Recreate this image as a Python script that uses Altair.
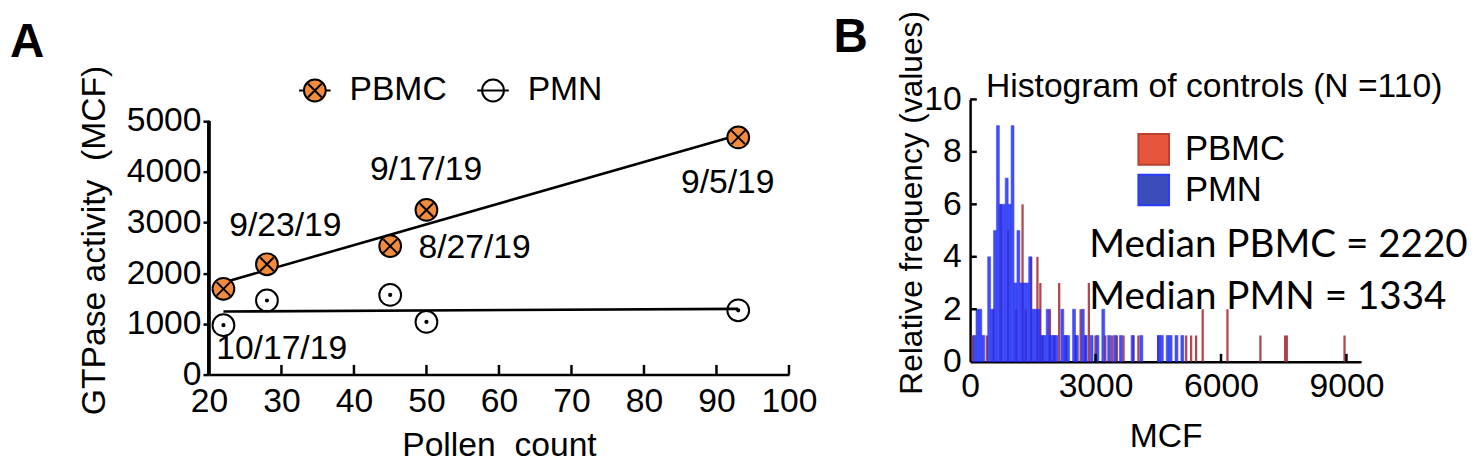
import altair as alt
import pandas as pd

# ---------------- Panel A data ----------------
pollen = [22, 28, 45, 50, 93]
pbmc_gtpase = [1690, 2175, 2533, 3246, 4676]
pmn_gtpase = [974, 1461, 1570, 1038, 1266]
series_names = ["PBMC", "PMN"]
date_labels = ["9/23/19", "9/17/19", "8/27/19", "9/5/19", "10/17/19"]
date_label_pollen = [22.8, 42.2, 48.9, 85.1, 21.0]
date_label_gtpase = [2928, 4025, 2484, 3766, 503]
pollen_ticks = [20, 30, 40, 50, 60, 70, 80, 90, 100]
gtpase_ticks = [0, 1000, 2000, 3000, 4000, 5000]

# ---------------- Panel B data ----------------
pmn_bin_width = 70
pmn_bin_start = [70, 140, 210, 280, 420, 490, 560, 630, 700, 770, 840, 910, 980,
                 1050, 1120, 1190, 1260, 1330, 1400, 1470, 1540, 1610, 1680, 1750,
                 1820, 1890, 1960, 2030, 2170, 2240, 2310, 2450, 2520, 2660, 2730,
                 2870, 3010, 3150, 3290, 3430, 3570, 3850, 4060, 4480, 4550, 4690,
                 4760, 4900, 5040]
pmn_bin_count = [1, 2, 2, 1, 4, 2, 5, 9, 6, 6, 7, 6, 9,
                 3, 5, 3, 3, 3, 4, 2, 2, 2, 1, 1,
                 2, 1, 1, 1, 2, 1, 1, 2, 1, 2, 1,
                 1, 1, 2, 1, 1, 1, 1, 1, 1, 1, 1,
                 1, 1, 1]
pbmc_mcf = [62, 400, 560, 733, 907, 1100, 1254, 1330, 1460, 1610, 1680, 1735,
            1909, 2012, 2130, 2287, 2524, 2642, 2761, 2840, 2997, 3234, 3392,
            3510, 3669, 3905, 4024, 4497, 5167, 5285, 5404, 5562, 6154, 6942,
            7534, 7574, 8954]
pbmc_count = [1, 1, 2, 6, 5, 2, 6, 2, 4, 4, 3, 1,
              2, 1, 3, 1, 1, 2, 1, 3, 1, 1, 1,
              1, 1, 1, 1, 1, 1, 1, 1, 2, 2, 1,
              1, 1, 1]
median_text = ["Median PBMC = 2220", "Median PMN = 1334"]
median_mcf = [2848, 2848]
median_freq = [4.45, 2.45]
mcf_ticks = [0, 3000, 6000, 9000]
freq_ticks = [0, 2, 4, 6, 8, 10]
hist_title = ["Histogram of controls (N =110)"]

FONT = "Liberation Sans"
CAL = "Lato"
ORANGE = "#f28c3c"
PBMC_RED = "#e8553d"
PMN_BLUE = "#3b4db8"

circle = "M1,0A1,1 0 1,1 -1,0A1,1 0 1,1 1,0Z"
shape_pbmc = circle + "M-0.62,-0.62L0.62,0.62M0.62,-0.62L-0.62,0.62"
shape_pmn = circle + "M0.1,0A0.1,0.1 0 1,1 -0.1,0A0.1,0.1 0 1,1 0.1,0Z"
leg_pbmc = shape_pbmc + "M-1.45,0L-1,0M1,0L1.45,0"
leg_pmn = circle + "M-1.45,0L1.45,0"

# ================= Panel A =================
dfA = pd.DataFrame({
    "pollen": pollen * 2,
    "gtp": pbmc_gtpase + pmn_gtpase,
    "series": ["PBMC"] * len(pollen) + ["PMN"] * len(pollen),
})
dfLab = pd.DataFrame({"pollen": date_label_pollen, "gtp": date_label_gtpase, "label": date_labels})
dfTickA = pd.DataFrame({"pollen": pollen_ticks})

xA = alt.X("pollen:Q",
           scale=alt.Scale(domain=[20, 100], nice=False, zero=False),
           axis=alt.Axis(values=pollen_ticks, format="d", title="Pollen\u00a0 count", grid=False,
                         labelFont=FONT, labelFontSize=34, labelColor="black",
                         labelPadding=10, labelFlush=False, labelOverlap=False,
                         tickSize=0, domainColor="black", domainWidth=2.5,
                         titleFont=FONT, titleFontSize=34, titleFontWeight="normal",
                         titleColor="black", titleY=72, titleBaseline="middle"))
yA = alt.Y("gtp:Q",
           scale=alt.Scale(domain=[0, 5425], nice=False),
           axis=alt.Axis(values=gtpase_ticks, format="d", title="GTPase activity\u00a0 (MCF)",
                         grid=False, domain=False, tickSize=6, tickWidth=2.5, tickColor="black",
                         labelFont=FONT, labelFontSize=34, labelColor="black",
                         labelPadding=2, labelFlush=False, labelOverlap=False,
                         titleFont=FONT, titleFontSize=34, titleFontWeight="normal",
                         titleColor="black", titleX=-115, titleY=142, titleAngle=270,
                         titleAlign="center", titleBaseline="middle"))

reg = alt.Chart(dfA).transform_regression(
    "pollen", "gtp", groupby=["series"]
).mark_line(color="black", strokeWidth=2.6).encode(x=xA, y=yA, detail="series:N")

yaxis_line = alt.Chart(dfTickA).mark_rule(color="black", strokeWidth=2.5).encode(
    x=alt.datum(20), y=alt.datum(0), y2=alt.datum(5000))

xticks_in = alt.Chart(dfTickA).mark_rule(color="black", strokeWidth=2.5).encode(
    x=xA, y=alt.datum(0), y2=alt.datum(190))

pts_pbmc = alt.Chart(dfA).transform_filter("datum.series == 'PBMC'").mark_point(
    shape=shape_pbmc, filled=True, fill=ORANGE, stroke="black", strokeWidth=2,
    size=484, opacity=1).encode(x=xA, y=yA)

pts_pmn = alt.Chart(dfA).transform_filter("datum.series == 'PMN'").mark_point(
    shape=shape_pmn, filled=False, stroke="black", strokeWidth=2,
    size=484, opacity=1).encode(x=xA, y=yA)

labels = alt.Chart(dfLab).mark_text(
    align="left", baseline="middle", font=FONT, fontSize=34, color="black"
).encode(x=xA, y=yA, text="label:N")

legA = alt.Legend(title=None, orient="none", legendX=90, legendY=-26, direction="horizontal",
                  labelFont=FONT, labelFontSize=34, labelColor="black", labelOffset=18,
                  symbolSize=484, symbolStrokeWidth=2, columnPadding=26, padding=0)
legend_a = alt.Chart(pd.DataFrame({"series": series_names})).transform_filter("false").mark_point(
    filled=True, strokeWidth=2, size=484, opacity=1
).encode(
    shape=alt.Shape("series:N", scale=alt.Scale(domain=series_names, range=[leg_pbmc, leg_pmn]), legend=legA),
    fill=alt.Fill("series:N", scale=alt.Scale(domain=series_names, range=[ORANGE, "white"]), legend=legA),
    stroke=alt.Stroke("series:N", scale=alt.Scale(domain=series_names, range=["black", "black"]), legend=legA),
)

letter_a = alt.Chart(pd.DataFrame({"t": ["A"]})).mark_text(
    font=FONT, fontSize=48, fontWeight="bold", align="left", baseline="middle", color="black"
).encode(text="t:N", x=alt.value(-201), y=alt.value(-57))

chartA = alt.layer(reg, yaxis_line, xticks_in, pts_pbmc, pts_pmn, labels, legend_a, letter_a).properties(
    width=586, height=278)

# ================= Panel B =================
dfPMN = pd.DataFrame({"mcf": pmn_bin_start, "mcf_end": [s + pmn_bin_width for s in pmn_bin_start],
                      "count": pmn_bin_count})
dfPBMC = pd.DataFrame({"mcf": pbmc_mcf, "count": pbmc_count})
dfMed = pd.DataFrame({"mcf": median_mcf, "count": median_freq, "label": median_text})

xB = alt.X("mcf:Q",
           scale=alt.Scale(domain=[0, 9350], nice=False, zero=False),
           axis=alt.Axis(values=mcf_ticks, format="d", title="MCF", grid=False,
                         labelFont=FONT, labelFontSize=34, labelColor="black",
                         labelPadding=8, labelFlush=False, labelOverlap=False,
                         tickSize=0, domainColor="black", domainWidth=2.5,
                         titleFont=FONT, titleFontSize=34, titleFontWeight="normal",
                         titleColor="black", titleY=76, titleBaseline="middle"))
yB = alt.Y("count:Q",
           scale=alt.Scale(domain=[0, 10], nice=False),
           stack=None,
           axis=alt.Axis(values=freq_ticks, format="d", title="Relative frequency (values)", grid=False,
                         tickSize=0, domainColor="black", domainWidth=2.5,
                         labelFont=FONT, labelFontSize=34, labelColor="black",
                         labelPadding=9, labelFlush=False, labelOverlap=False,
                         titleFont=FONT, titleFontSize=32, titleFontWeight="normal",
                         titleColor="black", titleX=-59, titleY=104, titleAngle=270,
                         titleAlign="center", titleBaseline="middle"))

red_bars = alt.Chart(dfPBMC).mark_rule(color="#a8323a", strokeWidth=2.3, opacity=0.9).encode(
    x=xB, y=yB, y2=alt.datum(0))

blue_bars = alt.Chart(dfPMN).mark_bar(color="#2233f2", opacity=0.86, stroke="#1f2cff",
                                      strokeWidth=0.6).encode(
    x=xB, x2="mcf_end:Q", y=yB, y2=alt.datum(0))

xticks_b = alt.Chart(pd.DataFrame({"mcf": mcf_ticks[1:]})).mark_rule(color="black", strokeWidth=2.5).encode(
    x=xB, y=alt.datum(0), y2=alt.datum(0.3))
yticks_b = alt.Chart(pd.DataFrame({"count": freq_ticks[1:]})).mark_rule(color="black", strokeWidth=2.5).encode(
    y=yB, x=alt.datum(0), x2=alt.datum(160))

medians = alt.Chart(dfMed).mark_text(
    align="left", baseline="middle", font=CAL, fontSize=39, color="black"
).encode(x=xB, y=yB, text="label:N")

title_b = alt.Chart(pd.DataFrame({"t": hist_title})).mark_text(
    align="left", baseline="alphabetic", font=FONT, fontSize=34, color="black"
).encode(text="t:N", x=alt.value(16), y=alt.value(-2))

legB = alt.Legend(title=None, orient="none", legendX=168, legendY=33, direction="vertical",
                  labelFont=FONT, labelFontSize=35, labelColor="black", labelOffset=14,
                  symbolSize=960, symbolType="square", symbolStrokeWidth=2,
                  rowPadding=2, padding=0)
legend_b = alt.Chart(pd.DataFrame({"cell": series_names})).transform_filter("false").mark_square(
    filled=True, size=960, opacity=1, strokeWidth=2
).encode(
    fill=alt.Fill("cell:N", scale=alt.Scale(domain=series_names, range=[PBMC_RED, PMN_BLUE]), legend=legB),
    stroke=alt.Stroke("cell:N", scale=alt.Scale(domain=series_names, range=["#b8412f", "#2a3cff"]), legend=legB),
)

letter_b = alt.Chart(pd.DataFrame({"t": ["B"]})).mark_text(
    font=FONT, fontSize=48, fontWeight="bold", align="left", baseline="middle", color="black"
).encode(text="t:N", x=alt.value(-138), y=alt.value(-62))

chartB = alt.layer(red_bars, blue_bars, xticks_b, yticks_b, medians, title_b, legend_b, letter_b).properties(
    width=395, height=265)

chart = alt.hconcat(chartA, chartB, spacing=16).resolve_scale(
    fill="independent", stroke="independent", shape="independent", color="independent"
).resolve_legend(
    fill="independent", stroke="independent", shape="independent", color="independent"
).properties(
    padding={"left": 2, "top": 0, "right": 0, "bottom": 0}
).configure(background="white").configure_view(stroke=None)

chart.save("out.html", embed_options={"renderer": "svg", "actions": False})
